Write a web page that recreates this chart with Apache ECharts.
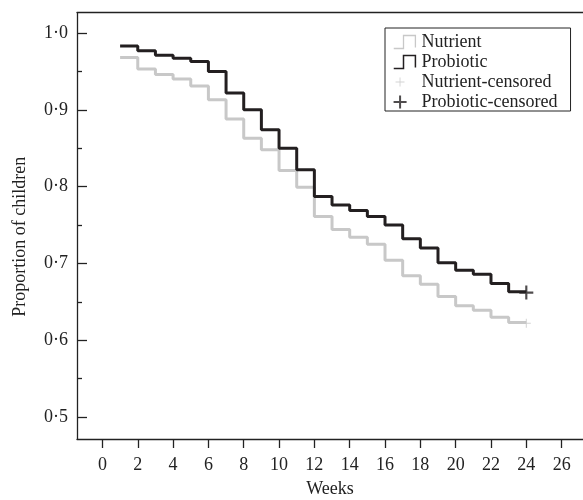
<!DOCTYPE html>
<html><head><meta charset="utf-8">
<script src="https://cdn.jsdelivr.net/npm/echarts@6/dist/echarts.min.js"></script>
<style>html,body{margin:0;padding:0;background:#fff}#c{width:583px;height:500px}</style>
</head><body><div id="c"></div>
<script>
// ---- data ----
const weeks = [1,2,3,4,5,6,7,8,9,10,11,12,13,14,15,16,17,18,19,20,21,22,23,24];
const nutrient = [0.968,0.953,0.946,0.940,0.931,0.913,0.888,0.863,0.848,0.821,0.799,0.761,0.744,0.734,0.725,0.704,0.684,0.673,0.657,0.645,0.639,0.630,0.623,0.623];
const probiotic = [0.983,0.977,0.971,0.967,0.963,0.950,0.922,0.900,0.874,0.850,0.822,0.787,0.776,0.769,0.761,0.750,0.732,0.720,0.701,0.691,0.686,0.674,0.663,0.663];
const censorWeeks = [24];
const nutrientCensored = [0.622];
const probioticCensored = [0.662];
const xTickLabels = [0,2,4,6,8,10,12,14,16,18,20,22,24,26];
const yTickLabels = [0.5,0.6,0.7,0.8,0.9,1.0];
const yMinorTicks = [0.55,0.65,0.75,0.85,0.95];

const FONT = 'Liberation Serif';
const GREY = '#c8c8c8', BLACK = '#231f20', AXIS = '#222';
const X_MIN = -1.44, X_MAX = 27.21, Y_MIN = 0.4714, Y_MAX = 1.0264;

const stepIcon = 'path://M0,12 L9,12 L9,0 L20,0 L20,11';
const plusIconBlack = 'path://M5.5,0h2v5.5h5.5v2h-5.5v5.5h-2v-5.5h-5.5v-2h5.5z M22,13';
const plusIconGrey = 'path://M6,2h0.9v4h4v0.9h-4v4h-0.9v-4h-4v-0.9h4z M0,0 M22,13';
const plusBlack = 'path://M5.5,0h2v5.5h5.5v2h-5.5v5.5h-2v-5.5h-5.5v-2h5.5z';
const plusGrey = 'path://M4,0h1v4h4v1h-4v4h-1v-4h-4v-1h4z';

const chart = echarts.init(document.getElementById('c'), null, {renderer: 'canvas'});
chart.setOption({
  animation: false,
  backgroundColor: '#fff',
  textStyle: {fontFamily: FONT},
  grid: {left: 77, right: 0, top: 12.7, bottom: 61, containLabel: false, outerBoundsMode: 'none'},
  legend: {
    orient: 'vertical', left: 385, top: 28,
    padding: [5, 13, 0, 8], itemGap: 2, itemWidth: 24, itemHeight: 13,
    borderColor: AXIS, borderWidth: 1, backgroundColor: '#fff',
    textStyle: {fontFamily: FONT, fontSize: 18, color: AXIS},
    data: [
      {name: 'Nutrient', icon: stepIcon, itemStyle: {color: 'rgba(0,0,0,0)', borderColor: GREY, borderWidth: 1.3}},
      {name: 'Probiotic', icon: stepIcon, itemStyle: {color: 'rgba(0,0,0,0)', borderColor: BLACK, borderWidth: 1.5}},
      {name: 'Nutrient-censored', icon: plusIconGrey, itemStyle: {color: GREY, borderWidth: 0}},
      {name: 'Probiotic-censored', icon: plusIconBlack, itemStyle: {color: BLACK, borderWidth: 0}}
    ]
  },
  xAxis: [{
    type: 'value', min: X_MIN, max: X_MAX,
    name: 'Weeks', nameLocation: 'middle', nameGap: 41,
    nameTextStyle: {fontFamily: FONT, fontSize: 18, color: AXIS},
    axisLine: {show: true, onZero: false, lineStyle: {color: AXIS, width: 1.3}},
    axisTick: {show: true, inside: false, length: 9, customValues: xTickLabels, lineStyle: {color: AXIS, width: 1.3}},
    axisLabel: {customValues: xTickLabels, margin: 17, fontFamily: FONT, fontSize: 18, color: AXIS},
    splitLine: {show: false}
  }, {
    type: 'value', position: 'top', min: X_MIN, max: X_MAX,
    axisLine: {show: true, onZero: false, lineStyle: {color: AXIS, width: 1.3}},
    axisTick: {show: false}, axisLabel: {show: false}, splitLine: {show: false}
  }],
  yAxis: [{
    type: 'value', min: Y_MIN, max: Y_MAX,
    name: 'Proportion of children', nameLocation: 'middle', nameGap: 48, nameRotate: 90,
    nameTextStyle: {fontFamily: FONT, fontSize: 18, color: AXIS, padding: [0, 22, 0, 0]},
    axisLine: {show: true, onZero: false, lineStyle: {color: AXIS, width: 1.3}},
    axisTick: {show: true, inside: true, length: 10, customValues: yTickLabels, lineStyle: {color: AXIS, width: 1.3}},
    axisLabel: {customValues: yTickLabels, margin: 9, fontFamily: FONT, fontSize: 18, color: AXIS,
      formatter: v => v.toFixed(1).replace('.', '\u00b7')},
    splitLine: {show: false}
  }, {
    type: 'value', position: 'left', min: Y_MIN, max: Y_MAX,
    axisLine: {show: false, onZero: false},
    axisTick: {show: true, inside: true, length: 5, customValues: yMinorTicks, lineStyle: {color: AXIS, width: 1.3}},
    axisLabel: {show: false}, splitLine: {show: false}
  }],
  series: [
    {name: 'Nutrient', type: 'line', step: 'end', symbol: 'none',
     lineStyle: {color: GREY, width: 3}, itemStyle: {color: GREY},
     data: weeks.map((w, i) => [w, nutrient[i]])},
    {name: 'Probiotic', type: 'line', step: 'end', symbol: 'none',
     lineStyle: {color: BLACK, width: 3}, itemStyle: {color: BLACK},
     data: weeks.map((w, i) => [w, probiotic[i]])},
    {name: 'Nutrient-censored', type: 'scatter', symbol: plusGrey, symbolSize: 9,
     itemStyle: {color: GREY}, z: 3,
     data: censorWeeks.map((w, i) => [w, nutrientCensored[i]])},
    {name: 'Probiotic-censored', type: 'scatter', symbol: plusBlack, symbolSize: 14,
     itemStyle: {color: BLACK}, z: 3,
     data: censorWeeks.map((w, i) => [w, probioticCensored[i]])}
  ]
});
</script>
</body></html>
